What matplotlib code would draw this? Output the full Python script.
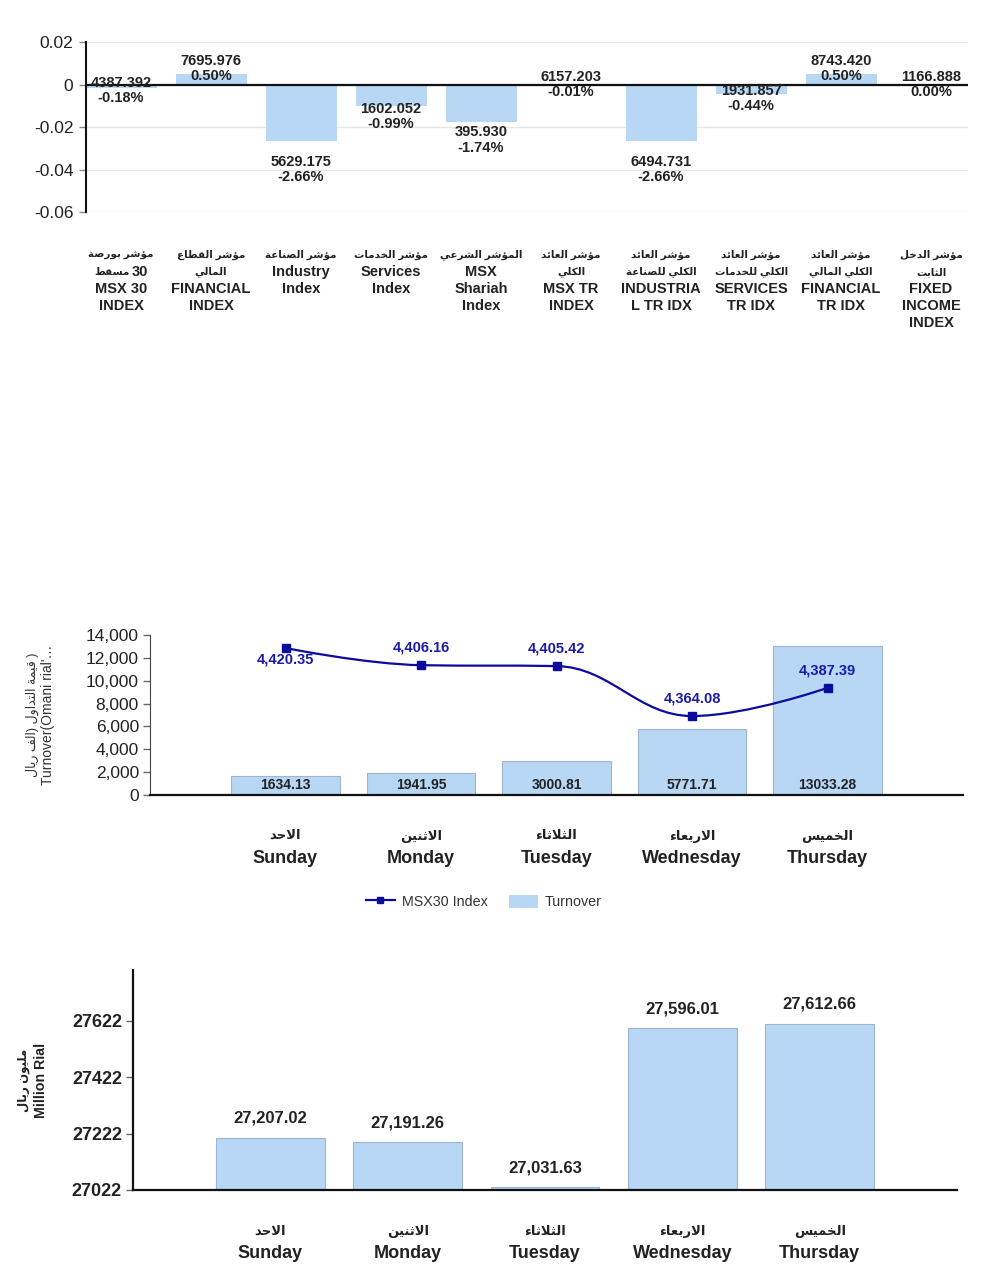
import re
import matplotlib
matplotlib.use('Agg')
import matplotlib.pyplot as plt
from matplotlib.path import Path
from matplotlib.patches import PathPatch, Patch
from matplotlib.lines import Line2D
from matplotlib.ticker import FuncFormatter

plt.rcParams['font.family'] = ['Liberation Sans', 'DejaVu Sans']

# ---- data ----
index_ar = [['مؤشر بورصة', 'مسقط 30'], ['مؤشر القطاع', 'المالي'], ['مؤشر الصناعة'],
            ['مؤشر الخدمات'], ['المؤشر الشرعي'], ['مؤشر العائد', 'الكلي'],
            ['مؤشر العائد', 'الكلي للصناعة'], ['مؤشر العائد', 'الكلي للخدمات'],
            ['مؤشر العائد', 'الكلي المالي'], ['مؤشر الدخل', 'الثابت']]
index_en = [['MSX 30', 'INDEX'], ['FINANCIAL', 'INDEX'], ['Industry', 'Index'],
            ['Services', 'Index'], ['MSX', 'Shariah', 'Index'], ['MSX TR', 'INDEX'],
            ['INDUSTRIA', 'L TR IDX'], ['SERVICES', 'TR IDX'], ['FINANCIAL', 'TR IDX'],
            ['FIXED', 'INCOME', 'INDEX']]
index_close = [4387.392, 7695.976, 5629.175, 1602.052, 395.930,
               6157.203, 6494.731, 1931.857, 8743.420, 1166.888]
index_change = [-0.18, 0.50, -2.66, -0.99, -1.74, -0.01, -2.66, -0.44, 0.50, 0.00]  # percent

days_ar = ['الاحد', 'الاثنين', 'الثلاثاء', 'الاربعاء', 'الخميس']
days_en = ['Sunday', 'Monday', 'Tuesday', 'Wednesday', 'Thursday']
turnover = [1634.13, 1941.95, 3000.81, 5771.71, 13033.28]
msx30 = [4420.35, 4406.16, 4405.42, 4364.08, 4387.39]
market_cap = [27207.02, 27191.26, 27031.63, 27596.01, 27612.66]

BAR = '#b7d7f4'
BAR_EDGE = '#9db4cc'
LINE = '#0c0c9c'
TXT = '#222222'

# ---- arabic shaping (matplotlib has no bidi / joining) ----
_counts = [1, 2, 2, 2, 2, 4, 2, 4, 2, 4, 4, 4, 4, 4, 2, 2, 2, 2, 4, 4, 4, 4, 4, 4, 4, 4]
_counts2 = [4, 4, 4, 4, 4, 4, 4, 2, 2, 4]
AR = {}
start = 0xFE80
for k, n in enumerate(_counts):
    AR[chr(0x0621 + k)] = (start, n)
    start += n
for k, n in enumerate(_counts2):
    AR[chr(0x0641 + k)] = (start, n)
    start += n


def shape(text):
    res = []
    i = 0
    while i < len(text):
        c = text[i]
        if c not in AR:
            res.append(c)
            i += 1
            continue
        prev = text[i - 1] if i > 0 else ''
        joins_prev = prev in AR and AR[prev][1] == 4
        if c == 'ل' and i + 1 < len(text) and text[i + 1] == 'ا':
            res.append('\uFEFC' if joins_prev else '\uFEFB')
            i += 2
            continue
        nxt = text[i + 1] if i + 1 < len(text) else ''
        s, n = AR[c]
        joins_next = n == 4 and nxt in AR and AR[nxt][1] > 1
        if n == 1:
            form = s
        elif n == 2:
            form = s + (1 if joins_prev else 0)
        else:
            form = s + [[0, 2], [1, 3]][joins_prev][joins_next]
        res.append(chr(form))
        i += 1
    return ''.join(res)


def visual(text):
    # reverse arabic runs inside a left-to-right line
    def flip(m):
        run = shape(m.group(0))[::-1]
        return run.translate(str.maketrans('()', ')('))
    return re.sub(r'[\u0600-\u06FF](?:[\u0600-\u06FF ()]*[\u0600-\u06FF])?', flip, text)


def spline_path(xs, ys, smoothing=1.5):
    n = len(xs)
    left = [None] * n
    right = [None] * n
    denom = smoothing + 1
    for i in range(1, n - 1):
        px, py = xs[i], ys[i]
        lx, ly = xs[i - 1], ys[i - 1]
        nx, ny = xs[i + 1], ys[i + 1]
        lcx, lcy = (smoothing * px + lx) / denom, (smoothing * py + ly) / denom
        rcx, rcy = (smoothing * px + nx) / denom, (smoothing * py + ny) / denom
        corr = ((rcy - lcy) * (rcx - px)) / (rcx - lcx) + py - rcy
        lcy += corr
        rcy += corr
        if lcy > ly and lcy > py:
            lcy = max(ly, py); rcy = 2 * py - lcy
        elif lcy < ly and lcy < py:
            lcy = min(ly, py); rcy = 2 * py - lcy
        if rcy > ny and rcy > py:
            rcy = max(ny, py); lcy = 2 * py - rcy
        elif rcy < ny and rcy < py:
            rcy = min(ny, py); lcy = 2 * py - rcy
        left[i] = (lcx, lcy)
        right[i] = (rcx, rcy)
    verts = [(xs[0], ys[0])]
    codes = [Path.MOVETO]
    for i in range(n - 1):
        verts += [right[i] or (xs[i], ys[i]), left[i + 1] or (xs[i + 1], ys[i + 1]), (xs[i + 1], ys[i + 1])]
        codes += [Path.CURVE4] * 3
    return Path(verts, codes)


def day_labels(ax, ar_off, en_off):
    for i in range(len(days_en)):
        ax.annotate(visual(days_ar[i]), xy=(i, 0), xycoords=('data', 'axes fraction'),
                    xytext=(0, -ar_off * 0.72), textcoords='offset points',
                    ha='center', va='center', fontsize=9.5, fontweight='bold', color=TXT)
        ax.annotate(days_en[i], xy=(i, 0), xycoords=('data', 'axes fraction'),
                    xytext=(0, -en_off * 0.72), textcoords='offset points',
                    ha='center', va='center', fontsize=13, fontweight='bold', color=TXT)


fig = plt.figure(figsize=(10, 12.78), dpi=100)

# ---- chart 1: index change ----
ax1 = fig.add_axes([0.086, 0.8341, 0.882, 0.1330])
pos = list(range(len(index_close)))
frac = [c / 100 for c in index_change]
ax1.bar(pos, frac, width=0.79, color=BAR, zorder=2)
ax1.set_xlim(-0.39, 9.41)
ax1.set_ylim(-0.06, 0.02)
ax1.set_yticks([0.02, 0, -0.02, -0.04, -0.06])
ax1.yaxis.set_major_formatter(FuncFormatter(lambda v, p: '0' if abs(v) < 1e-9 else f'{v:.2f}'))
ax1.grid(axis='y', color='#e6e6e6', lw=1, zorder=0)
ax1.axhline(0, color='#111111', lw=1.6, zorder=3)
ax1.set_xticks([])
for s in ['top', 'right', 'bottom']:
    ax1.spines[s].set_visible(False)
ax1.spines['left'].set_linewidth(1.5)
ax1.spines['left'].set_color('#111111')
ax1.tick_params(axis='y', length=5, width=1, color='#888888', labelsize=12.5, labelcolor=TXT, pad=4)

for i, (c, v) in enumerate(zip(index_close, frac)):
    ax1.text(i, v * 1.5, f'{c:.3f}\n{index_change[i]:.2f}%', ha='center', va='center',
             fontsize=10.5, fontweight='bold', color=TXT, linespacing=1.1, zorder=4)

for i in pos:
    lines = index_ar[i] + index_en[i]
    for j, line in enumerate(lines):
        dy = -(43 + 17 * j) * 0.72
        is_ar = j < len(index_ar[i])
        if not is_ar:
            ax1.annotate(line, xy=(i, 0), xycoords=('data', 'axes fraction'),
                         xytext=(0, dy), textcoords='offset points',
                         ha='center', va='center', fontsize=10.5, fontweight='bold', color=TXT)
            continue
        m = re.match(r'(.*?)\s*([0-9]+)$', line)
        if m:
            # arabic word + number: draw the two parts side by side
            ax1.annotate(visual(m.group(1)), xy=(i, 0), xycoords=('data', 'axes fraction'),
                         xytext=(6, dy), textcoords='offset points',
                         ha='right', va='center', fontsize=7.5, fontweight='bold', color=TXT)
            ax1.annotate(m.group(2), xy=(i, 0), xycoords=('data', 'axes fraction'),
                         xytext=(7.5, dy), textcoords='offset points',
                         ha='left', va='center', fontsize=10.5, fontweight='bold', color=TXT)
        else:
            ax1.annotate(visual(line), xy=(i, 0), xycoords=('data', 'axes fraction'),
                         xytext=(0, dy), textcoords='offset points',
                         ha='center', va='center', fontsize=7.5, fontweight='bold', color=TXT)

# ---- chart 2: turnover + MSX30 ----
ax2 = fig.add_axes([0.150, 0.3779, 0.813, 0.1252])
dpos = list(range(len(days_en)))
ax2.bar(dpos, turnover, width=0.8, color=BAR, edgecolor=BAR_EDGE, lw=0.8, zorder=2)
ax2.set_xlim(-1, 5)
ax2.set_ylim(0, 14000)
ax2.set_yticks(range(0, 14001, 2000))
ax2.yaxis.set_major_formatter(FuncFormatter(lambda v, p: f'{v:,.0f}'))
ax2.set_xticks([])
for s in ['top', 'right']:
    ax2.spines[s].set_visible(False)
ax2.spines['left'].set_color('#444444')
ax2.spines['bottom'].set_linewidth(1.6)
ax2.spines['bottom'].set_color('#111111')
ax2.tick_params(axis='y', length=5, width=1, color='#666666', labelsize=12.5, labelcolor=TXT, pad=3)
for i, v in enumerate(turnover):
    ax2.annotate(f'{v:.2f}', xy=(i, 0), xytext=(0, 7), textcoords='offset points',
                 ha='center', va='center', fontsize=10, fontweight='bold', color=TXT, zorder=4)

ax2b = ax2.twinx()
lo, hi = 4298.7, 4431.1
ax2b.set_ylim(lo, hi)
ax2b.set_xlim(-1, 5)
ax2b.axis('off')
ax2b.add_patch(PathPatch(spline_path(dpos, msx30), fill=False, ec=LINE, lw=1.6, zorder=3))
ax2b.plot(dpos, msx30, 's', ms=6, color=LINE, zorder=4)
for i, v in enumerate(msx30):
    off = -8 if (v - lo) / (hi - lo) > 0.85 else 12.5
    ax2b.annotate(f'{v:,.2f}', xy=(i, v), xytext=(0, off), textcoords='offset points',
                  ha='center', va='center', fontsize=10.5, fontweight='bold', color='#1a1aa8')
day_labels(ax2, 41, 63)

fig.text(0.032, 1 - 715 / 1278, visual('قيمة التداول (الف ريال )'), rotation=90,
         ha='center', va='center', fontsize=9, color='#333333')
fig.text(0.048, 1 - 715 / 1278, "Turnover(Omani rial'\u2026", rotation=90,
         ha='center', va='center', fontsize=10, color='#333333')

fig.legend(handles=[Line2D([], [], color=LINE, marker='s', ms=5, lw=1.6, label='MSX30 Index'),
                    Patch(fc=BAR, label='Turnover')],
           loc='center', bbox_to_anchor=(0.484, 1 - 902 / 1278), ncol=2, frameon=False,
           fontsize=10.3, handlelength=2.0, handleheight=1.0, handletextpad=0.5,
           columnspacing=1.5, labelcolor='#333333')

# ---- chart 3: market cap ----
ax3 = fig.add_axes([0.133, 0.0689, 0.824, 0.1721])
ax3.bar(dpos, market_cap, width=0.79, color=BAR, edgecolor=BAR_EDGE, lw=0.8, zorder=2)
ax3.set_xlim(-1, 5)
ax3.set_ylim(27022, 27803)
ax3.set_yticks([27022, 27222, 27422, 27622])
ax3.set_xticks([])
for s in ['top', 'right']:
    ax3.spines[s].set_visible(False)
for s in ['left', 'bottom']:
    ax3.spines[s].set_linewidth(1.6)
    ax3.spines[s].set_color('#111111')
ax3.tick_params(axis='y', length=5, width=1, color='#666666', labelsize=13, labelcolor=TXT, pad=3)
for t in ax3.get_yticklabels():
    t.set_fontweight('bold')
for i, v in enumerate(market_cap):
    ax3.annotate(f'{v:,.2f}', xy=(i, v), xytext=(0, 14), textcoords='offset points',
                 ha='center', va='center', fontsize=12, fontweight='bold', color=TXT)
day_labels(ax3, 42, 64)

fig.text(0.024, 1 - 1080 / 1278, visual('مليون ريال'), rotation=90,
         ha='center', va='center', fontsize=8.5, fontweight='bold', color=TXT)
fig.text(0.041, 1 - 1080 / 1278, 'Million Rial', rotation=90,
         ha='center', va='center', fontsize=10.2, fontweight='bold', color=TXT)

fig.savefig('out.png', dpi=100)
